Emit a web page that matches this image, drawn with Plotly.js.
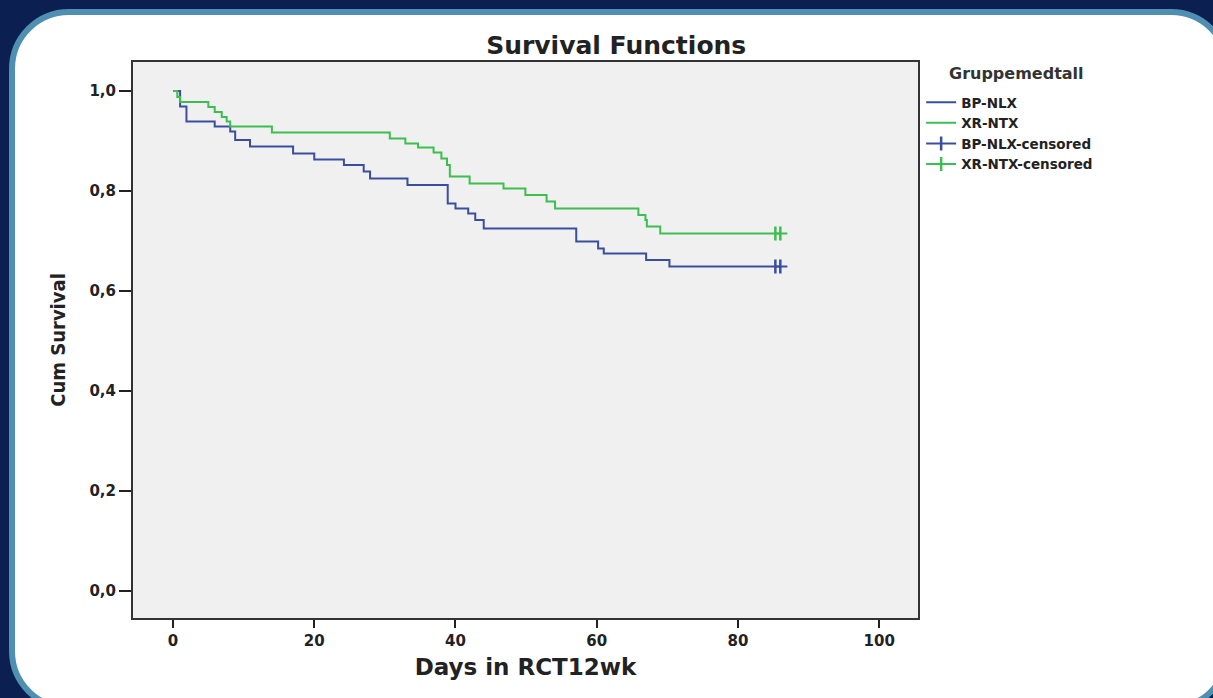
<!DOCTYPE html>
<html>
<head>
<meta charset="utf-8">
<script src="https://cdn.plot.ly/plotly-3.0.1.min.js"></script>
<style>
  html, body { margin: 0; padding: 0; width: 1213px; height: 698px; overflow: hidden; background: #0b2050; }
  #panel { position: absolute; left: 9px; top: 9px; width: 1222px; height: 702px; box-sizing: border-box;
           border: 6px solid #4f8fb1; border-radius: 60px; background: #ffffff; }
  #chart { position: absolute; left: 0; top: 0; width: 1213px; height: 698px; }
</style>
</head>
<body>
<div id="panel"></div>
<div id="chart"></div>
<script>
// BP-NLX Kaplan-Meier steps (day, cumulative survival)
const bpDays = [0, 1.0, 1.9, 5.9, 8.1, 8.8, 10.9, 17, 20, 24.2, 27, 27.9, 33.2, 38.9, 40, 41.8, 42.8, 44, 57.1, 60.2, 61, 67, 70.3, 87];
const bpSurv = [1.0, 0.969, 0.939, 0.929, 0.919, 0.902, 0.889, 0.875, 0.863, 0.852, 0.839, 0.825, 0.812, 0.775, 0.765, 0.755, 0.742, 0.725, 0.699, 0.685, 0.675, 0.662, 0.649, 0.649];
// XR-NTX Kaplan-Meier steps
const xrDays = [0, 0.6, 1.0, 5.0, 5.9, 6.9, 7.6, 8.1, 14, 30.7, 32.9, 34.7, 36.9, 38, 38.8, 39.2, 42, 46.8, 49.9, 52.9, 54.1, 65.9, 66.9, 67.1, 69, 87];
const xrSurv = [1.0, 0.988, 0.978, 0.968, 0.958, 0.948, 0.939, 0.929, 0.917, 0.905, 0.895, 0.887, 0.877, 0.865, 0.852, 0.829, 0.815, 0.805, 0.792, 0.779, 0.765, 0.752, 0.742, 0.729, 0.715, 0.715];
// censored observations
const bpCensDays = [85.3, 86.0];
const bpCensSurv = [0.649, 0.649];
const xrCensDays = [85.3, 86.0];
const xrCensSurv = [0.715, 0.715];
const yTicks = [0, 0.2, 0.4, 0.6, 0.8, 1.0];
const xTicks = [0, 20, 40, 60, 80, 100];
const legendTitle = 'Gruppemedtall';

const blue = 'rgb(58,78,160)';
const green = 'rgb(60,190,80)';
const fam = 'DejaVu Sans, Arial, sans-serif';
const tickFont = {family: fam, size: 15, color: '#222', weight: 'bold'};

const traces = [
  {x: bpDays, y: bpSurv, name: 'BP-NLX', mode: 'lines', line: {color: blue, width: 2, shape: 'hv'}},
  {x: xrDays, y: xrSurv, name: 'XR-NTX', mode: 'lines', line: {color: green, width: 2, shape: 'hv'}},
  {x: bpCensDays, y: bpCensSurv, name: 'BP-NLX-censored', mode: 'lines+markers',
   line: {color: blue, width: 2},
   marker: {symbol: 'line-ns', size: 10, color: blue, line: {color: blue, width: 2.5}}},
  {x: xrCensDays, y: xrCensSurv, name: 'XR-NTX-censored', mode: 'lines+markers',
   line: {color: green, width: 2},
   marker: {symbol: 'line-ns', size: 10, color: green, line: {color: green, width: 2.5}}}
];

const layout = {
  width: 1213, height: 698,
  paper_bgcolor: 'rgba(0,0,0,0)',
  plot_bgcolor: '#f0f0f0',
  separators: ',.',
  margin: {l: 133, r: 295, t: 62, b: 80},
  title: {text: 'Survival Functions', x: 0.508, xanchor: 'center', y: 0.935, yanchor: 'middle',
          font: {family: fam, size: 25, color: '#222', weight: 'bold'}},
  xaxis: {
    range: [-5.67, 105.5], tickvals: xTicks, ticktext: xTicks.map(String),
    ticks: 'outside', ticklen: 8, tickwidth: 2, tickcolor: '#222',
    showline: true, mirror: true, linecolor: '#333', linewidth: 2,
    showgrid: false, zeroline: false, tickfont: tickFont,
    title: {text: 'Days in RCT12wk', standoff: 10,
            font: {family: fam, size: 23, color: '#222', weight: 'bold'}}
  },
  yaxis: {
    range: [-0.054, 1.058], tickvals: yTicks, tickformat: '.1f',
    ticks: 'outside', ticklen: 12, tickwidth: 2, tickcolor: '#222',
    showline: true, mirror: true, linecolor: '#333', linewidth: 2,
    showgrid: false, zeroline: false, tickfont: tickFont,
    title: {text: 'Cum Survival', standoff: 18,
            font: {family: 'Liberation Sans Narrow, DejaVu Sans Condensed, Arial Narrow, sans-serif', size: 20, color: '#222', weight: 'bold'}}
  },
  showlegend: true,
  legend: {x: 1.004, xanchor: 'left', y: 0.955, yanchor: 'top', bgcolor: 'rgba(0,0,0,0)',
           borderwidth: 0, font: {family: fam, size: 13.5, color: '#222', weight: 'bold'}},
  annotations: [
    {text: legendTitle, xref: 'paper', yref: 'paper', x: 1.037, y: 0.98, xanchor: 'left', yanchor: 'middle',
     showarrow: false, font: {family: fam, size: 16, color: '#333', weight: 'bold'}}
  ]
};

Plotly.newPlot('chart', traces, layout, {displayModeBar: false, staticPlot: true});
</script>
</body>
</html>
